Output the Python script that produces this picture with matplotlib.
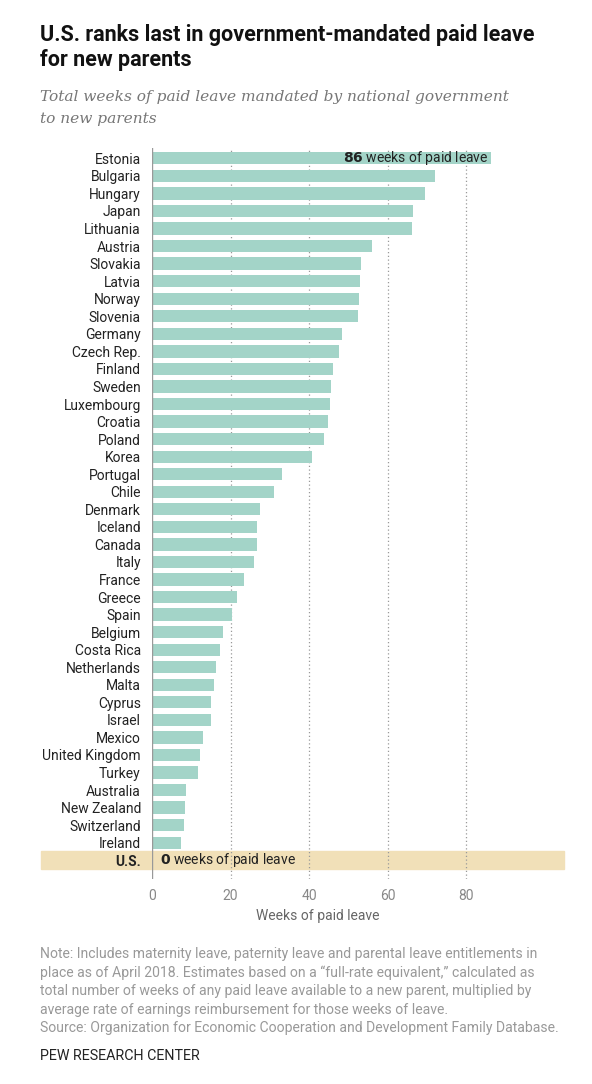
import matplotlib
matplotlib.use("Agg")
import matplotlib.pyplot as plt
from matplotlib.patches import Rectangle
import matplotlib.transforms as mtransforms

# Data (weeks of full-rate-equivalent paid leave)
countries = ["Estonia", "Bulgaria", "Hungary", "Japan", "Lithuania", "Austria",
             "Slovakia", "Latvia", "Norway", "Slovenia", "Germany", "Czech Rep.",
             "Finland", "Sweden", "Luxembourg", "Croatia", "Poland", "Korea",
             "Portugal", "Chile", "Denmark", "Iceland", "Canada", "Italy",
             "France", "Greece", "Spain", "Belgium", "Costa Rica", "Netherlands",
             "Malta", "Cyprus", "Israel", "Mexico", "United Kingdom", "Turkey",
             "Australia", "New Zealand", "Switzerland", "Ireland"]
weeks = [86.3, 72.0, 69.4, 66.3, 66.1, 56.1,
         53.3, 52.9, 52.6, 52.5, 48.4, 47.7,
         46.1, 45.5, 45.4, 44.7, 43.7, 40.6,
         33.0, 31.0, 27.6, 26.6, 26.6, 26.0,
         23.5, 21.7, 20.3, 18.0, 17.3, 16.4,
         15.7, 15.0, 15.0, 13.0, 12.1, 11.6,
         8.6, 8.4, 8.1, 7.5]
us_label = "U.S."
us_weeks = 0
xticks = [0, 20, 40, 60, 80]

BAR = "#a3d4c8"
BAND = "#f1e0b8"
W, H = 592, 1084

plt.rcParams["font.family"] = ["Roboto", "DejaVu Sans"]

fig = plt.figure(figsize=(W / 100, H / 100), dpi=100)


def px(x, y):
    return x / W, 1 - y / H


# axes from x=152..564 px, y=148..879 px
ax = fig.add_axes([152 / W, 1 - 879 / H, (564 - 152) / W, (879 - 148) / H])

labels = countries + [us_label]
ypos = list(range(len(labels)))

ax.barh(ypos[:-1], weeks, height=0.7, color=BAR, zorder=2)

ax.set_xlim(0, (564 - 152) / 3.93)
ax.set_ylim(41.07, -0.59)

# US highlight band across the whole chart width
trans = mtransforms.blended_transform_factory(ax.transAxes, ax.transData)
ax.add_patch(Rectangle((-111 / 412, len(labels) - 1 - 0.52), 1 + 111 / 412, 1.04,
                       transform=trans, color=BAND, clip_on=False, zorder=1))

for t in xticks[1:]:
    ax.axvline(t, color="#999999", lw=0.9, ls=(0, (1, 2)), zorder=1.5)
ax.axvline(0, color="#999999", lw=1.0, zorder=3)

for s in ax.spines.values():
    s.set_visible(False)

ax.set_yticks(ypos)
ax.set_yticklabels(labels, fontsize=10, color="#222222")
ax.get_yticklabels()[-1].set_fontweight("bold")
ax.tick_params(axis="y", length=0, pad=8)
ax.set_xticks(xticks)
ax.tick_params(axis="x", length=0, pad=7, labelsize=10, labelcolor="#888888")
ax.set_xlabel("Weeks of paid leave", fontsize=10, color="#666666")
ax.xaxis.set_label_coords((318 - 152) / 412, -(909 - 879) / (879 - 148))

# value annotations
ax.text(weeks[0] - 0.6, 0, r"$\bf{" + f"{weeks[0]:.0f}" + r"}$ weeks of paid leave",
        ha="right", va="center", fontsize=10, color="#222222", zorder=4)
ax.text(2, len(labels) - 1, r"$\bf{" + str(us_weeks) + r"}$ weeks of paid leave",
        ha="left", va="center", fontsize=10, color="#222222", zorder=4)

# titles
fig.text(*px(40, 35), "U.S. ranks last in government-mandated paid leave",
         fontsize=15.5, fontweight="bold", color="#111111", va="center")
fig.text(*px(40, 60), "for new parents",
         fontsize=15.5, fontweight="bold", color="#111111", va="center")
fig.text(*px(40, 97), "Total weeks of paid leave mandated by national government",
         fontsize=11.1, style="italic", family="DejaVu Serif", color="#777777", va="center")
fig.text(*px(40, 119), "to new parents",
         fontsize=11.1, style="italic", family="DejaVu Serif", color="#777777", va="center")

notes = ["Note: Includes maternity leave, paternity leave and parental leave entitlements in",
         "place as of April 2018. Estimates based on a \u201cfull-rate equivalent,\u201d calculated as",
         "total number of weeks of any paid leave available to a new parent, multiplied by",
         "average rate of earnings reimbursement for those weeks of leave.",
         "Source: Organization for Economic Cooperation and Development Family Database."]
for i, line in enumerate(notes):
    fig.text(*px(40, 954 + i * 18.6), line, fontsize=10.1, color="#999999", va="center")
fig.text(*px(40, 1056), "PEW RESEARCH CENTER", fontsize=10.3, color="#222222", va="center")

fig.savefig("out.png", dpi=100)
